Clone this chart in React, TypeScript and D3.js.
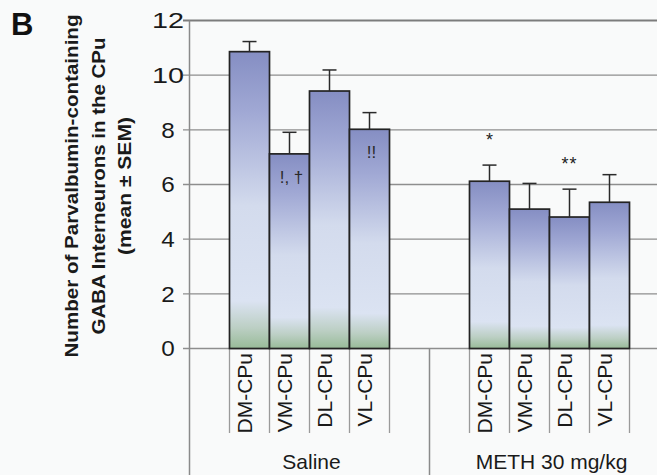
import React from "react";
import * as d3 from "d3";

// Chart data
const groups = ["Saline", "METH 30 mg/kg"];
const regions = ["DM-CPu", "VM-CPu", "DL-CPu", "VL-CPu"];
const salineMeans = [10.86, 7.12, 9.42, 8.02];
const salineSem = [0.37, 0.79, 0.77, 0.61];
const methMeans = [6.12, 5.1, 4.81, 5.35];
const methSem = [0.59, 0.94, 1.02, 1.01];
const yTicks = [0, 2, 4, 6, 8, 10, 12];
const yTitleLines = [
  "Number of Parvalbumin-containing",
  "GABA Interneurons in the CPu",
  "(mean ± SEM)",
];
const annotations = [
  { group: "Saline", region: "VM-CPu", text: "!, †", place: "inside" },
  { group: "Saline", region: "VL-CPu", text: "!!", place: "inside" },
  { group: "METH 30 mg/kg", region: "DM-CPu", text: "*", place: "above" },
  { group: "METH 30 mg/kg", region: "DL-CPu", text: "**", place: "above" },
];

const W = 657;
const H = 475;
const FONT = "'Liberation Sans', Arial, Helvetica, sans-serif";

export default function App() {
  const axisX = 189.5;
  const x0 = d3.scaleBand<string>().domain(groups).range([axisX, 669.5]).padding(0);
  const slots = ["padL", ...regions, "padR"];
  const x1 = d3.scaleBand<string>().domain(slots).range([0, x0.bandwidth()]).padding(0);
  const y = d3.scaleLinear().domain([0, 12]).range([348.5, 20.5]);

  const rows = groups.flatMap((g, gi) =>
    regions.map((r, i) => ({
      group: g,
      region: r,
      mean: gi === 0 ? salineMeans[i] : methMeans[i],
      sem: gi === 0 ? salineSem[i] : methSem[i],
    }))
  );
  const find = (g: string, r: string) => rows.find((d) => d.group === g && d.region === r)!;
  const bx = (g: string, r: string) => (x0(g) as number) + (x1(r) as number);
  const bw = x1.bandwidth();
  const y0 = y(0);

  // y title geometry (rotated lines, baseline x and drawn length)
  const titleX = [78, 105, 131];
  const titleLen = [343, 297, 138];
  const titleCenterY = 186;

  return (
    <svg
      width={W}
      height={H}
      style={{ position: "absolute", left: 0, top: 0, display: "block" }}
      fontFamily={FONT}
    >
      <defs>
        <linearGradient id="barFill" x1="0" y1="0" x2="0" y2="1">
          <stop offset="0" stopColor="#858ec3" />
          <stop offset="0.2" stopColor="#a0a8d4" />
          <stop offset="0.52" stopColor="#d3dbed" />
          <stop offset="0.84" stopColor="#dbe3f2" />
          <stop offset="0.93" stopColor="#bccfc4" />
          <stop offset="1" stopColor="#98bb98" />
        </linearGradient>
      </defs>
      <rect x={0} y={0} width={W} height={H} fill="#f9fafa" />

      {/* panel letter */}
      <text x={11} y={35} fontSize={31} fontWeight="bold" fill="#111">
        B
      </text>

      {/* y axis title */}
      {yTitleLines.map((line, i) => (
        <text
          key={line}
          transform={`translate(${titleX[i]},${titleCenterY}) rotate(-90)`}
          textAnchor="middle"
          fontSize={18}
          fontWeight="bold"
          fill="#1a1a1a"
          textLength={titleLen[i]}
          lengthAdjust="spacingAndGlyphs"
        >
          {line}
        </text>
      ))}

      {/* gridlines and ticks */}
      {yTicks.map((t) => (
        <g key={t}>
          <line
            x1={183}
            x2={W}
            y1={y(t)}
            y2={y(t)}
            stroke={t === 12 ? "#7c7c7c" : "#8e8e8e"}
            strokeWidth={t === 12 ? 1.8 : 1.4}
          />
          <text
            x={168}
            y={y(t)}
            dy="0.36em"
            textAnchor="middle"
            fontSize={21.5}
            fill="#1a1a1a"
            textLength={String(t).length > 1 ? 32 : 13.5}
            lengthAdjust="spacingAndGlyphs"
          >
            {t}
          </text>
        </g>
      ))}

      {/* vertical axis line, continued down as the group divider */}
      <line x1={axisX} x2={axisX} y1={y(12)} y2={H} stroke="#8a8a8a" strokeWidth={1.5} />
      {groups.slice(1).map((g) => (
        <line
          key={g}
          x1={x0(g) as number}
          x2={x0(g) as number}
          y1={y0}
          y2={H}
          stroke="#8a8a8a"
          strokeWidth={1.5}
        />
      ))}

      {/* category tick lines */}
      {groups.map((g) =>
        [...regions, "padR"].map((r) => (
          <line
            key={g + r}
            x1={bx(g, r)}
            x2={bx(g, r)}
            y1={y0}
            y2={433}
            stroke="#9a9a9a"
            strokeWidth={1.3}
          />
        ))
      )}

      {/* bars */}
      {rows.map((d) => (
        <rect
          key={d.group + d.region}
          x={bx(d.group, d.region)}
          y={y(d.mean)}
          width={bw}
          height={y0 - y(d.mean)}
          fill="url(#barFill)"
          stroke="#232323"
          strokeWidth={1.7}
        />
      ))}

      {/* error bars (upper SEM) */}
      {rows.map((d) => {
        const cx = bx(d.group, d.region) + bw / 2;
        const top = y(d.mean + d.sem);
        return (
          <g key={"e" + d.group + d.region} stroke="#2a2a2a" strokeWidth={1.5}>
            <line x1={cx} x2={cx} y1={y(d.mean)} y2={top} />
            <line x1={cx - 7} x2={cx + 7} y1={top} y2={top} />
          </g>
        );
      })}

      {/* significance marks */}
      {annotations.map((a) => {
        const d = find(a.group, a.region);
        const cx = bx(a.group, a.region) + bw / 2;
        if (a.place === "above") {
          return (
            <text
              key={a.group + a.region}
              x={cx}
              y={y(d.mean + d.sem) - 19}
              textAnchor="middle"
              fontSize={18}
              fill="#222"
              letterSpacing={a.text.length > 1 ? 1 : 0}
            >
              {a.text}
            </text>
          );
        }
        return (
          <text
            key={a.group + a.region}
            x={cx + 2}
            y={y(d.mean) + 29}
            textAnchor="middle"
            fontSize={17}
            fill="#2a2a2a"
          >
            {a.text}
          </text>
        );
      })}

      {/* category labels */}
      {rows.map((d) => (
        <text
          key={"l" + d.group + d.region}
          transform={`translate(${bx(d.group, d.region) + bw / 2 - 5},${y0 + 4.5}) rotate(-90)`}
          textAnchor="end"
          dy="0.36em"
          fontSize={21}
          fill="#1a1a1a"
        >
          {d.region}
        </text>
      ))}

      {/* group labels */}
      {groups.map((g) => (
        <text
          key={"g" + g}
          x={(x0(g) as number) + x0.bandwidth() / 2 + 2}
          y={469}
          textAnchor="middle"
          fontSize={21}
          fill="#1a1a1a"
        >
          {g}
        </text>
      ))}
    </svg>
  );
}
